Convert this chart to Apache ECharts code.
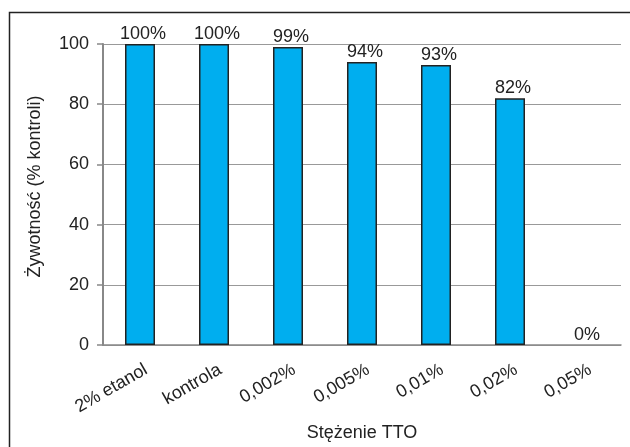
<!DOCTYPE html>
<html>
<head>
<meta charset="utf-8">
<script src="https://cdn.jsdelivr.net/npm/echarts@6/dist/echarts.min.js"></script>
<style>
  html, body { margin: 0; padding: 0; background: #fff; }
  #chart { width: 630px; height: 447px; }
</style>
</head>
<body>
<div id="chart"></div>
<script>
// Viability after TTO exposure, as % of control
const categories = ['2% etanol', 'kontrola', '0,002%', '0,005%', '0,01%', '0,02%', '0,05%'];
const viability = [100, 100, 99, 94, 93, 82, 0];
const yTicks = [0, 20, 40, 60, 80, 100];

const font = 'Liberation Sans, Arial, Helvetica, sans-serif';
const chart = echarts.init(document.getElementById('chart'));

// a zero-height bar gets no outline, so only its label shows
const barData = viability.map(v => v === 0
  ? { value: v, itemStyle: { borderWidth: 0 } }
  : v);

chart.setOption({
  animation: false,
  textStyle: { fontFamily: font },
  graphic: [{
    type: 'rect',
    shape: { x: 9.5, y: 12.5, width: 700, height: 500 },
    style: { fill: 'none', stroke: '#222', lineWidth: 1.5 },
    silent: true
  }],
  grid: { left: 103, right: 9, top: 44, bottom: 102 },
  xAxis: {
    type: 'category',
    data: categories,
    name: 'Stężenie TTO',
    nameLocation: 'middle',
    nameGap: 79,
    nameTextStyle: { fontSize: 18, color: '#222', fontFamily: font },
    axisLine: { lineStyle: { color: '#888', width: 1.5 } },
    axisTick: { show: false },
    axisLabel: {
      interval: 0, rotate: 30, fontSize: 18, color: '#222',
      margin: 27, padding: [0, -7, 0, 0], fontFamily: font
    }
  },
  yAxis: {
    type: 'value',
    min: yTicks[0],
    max: yTicks[yTicks.length - 1],
    interval: yTicks[1] - yTicks[0],
    name: 'Żywotność (% kontroli)',
    nameLocation: 'middle',
    nameGap: 59,
    nameTextStyle: { fontSize: 18, color: '#222', fontFamily: font, padding: [0, 0, 0, 16] },
    axisLine: { show: true, lineStyle: { color: '#888', width: 2 } },
    axisTick: { show: true, length: 6, lineStyle: { color: '#888', width: 1.5 } },
    axisLabel: { fontSize: 18, color: '#222', margin: 14, fontFamily: font },
    splitLine: { lineStyle: { color: '#999', width: 1.2 } }
  },
  series: [{
    type: 'bar',
    data: barData,
    barWidth: 30,
    itemStyle: { color: '#00AEEF', borderColor: '#222', borderWidth: 1.5 },
    label: {
      show: true,
      position: 'top',
      distance: 1,
      offset: [3, 0],
      fontSize: 18,
      color: '#222',
      fontFamily: font,
      formatter: p => p.value + '%'
    }
  }]
});
</script>
</body>
</html>
